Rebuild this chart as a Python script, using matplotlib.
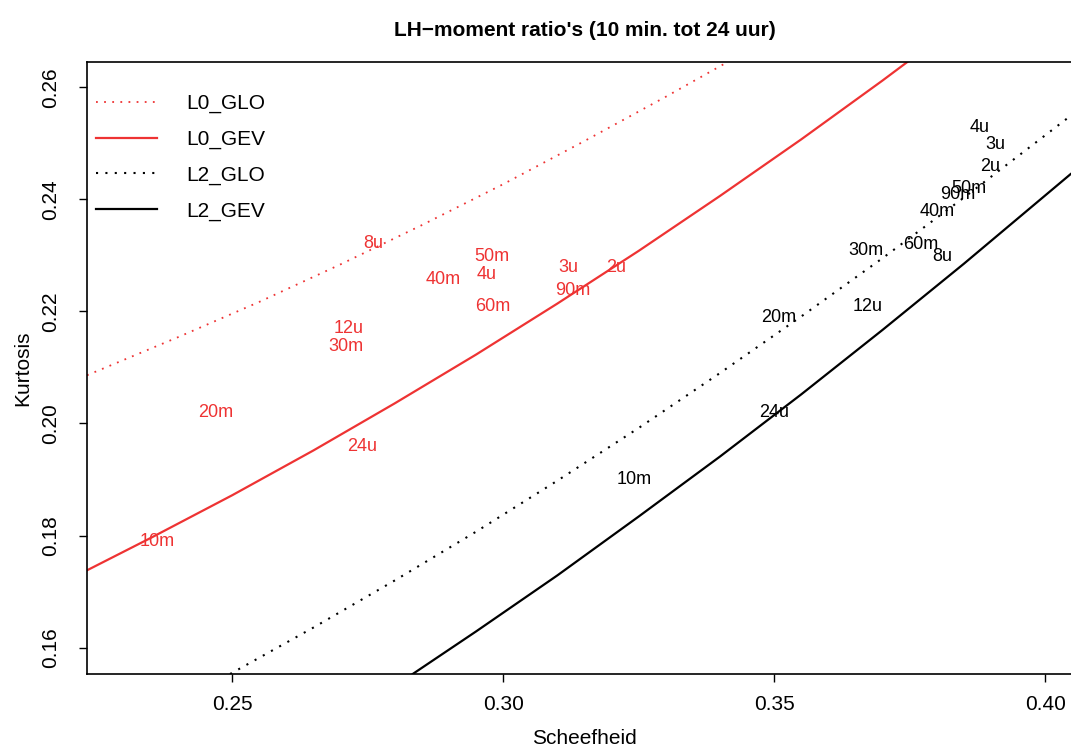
import numpy as np
import matplotlib
matplotlib.use("Agg")
import matplotlib.pyplot as plt

plt.rcParams['font.family'] = ['Liberation Sans', 'DejaVu Sans']

# Theoretical LH-moment ratio curves (skewness, kurtosis)
l0_glo_x = [0.2232, 0.2400, 0.2550, 0.2700, 0.2850, 0.3000, 0.3150, 0.3300, 0.3414]
l0_glo_y = [0.2086, 0.2154, 0.2217, 0.2284, 0.2354, 0.2427, 0.2504, 0.2583, 0.2645]

l0_gev_x = [0.2232, 0.2350, 0.2500, 0.2650, 0.2800, 0.2950, 0.3100, 0.3250,
            0.3400, 0.3550, 0.3700, 0.3765]
l0_gev_y = [0.1738, 0.1796, 0.1872, 0.1952, 0.2036, 0.2123, 0.2214, 0.2308,
            0.2406, 0.2507, 0.2612, 0.2659]

l2_glo_x = [0.2496, 0.2650, 0.2800, 0.2950, 0.3100, 0.3250, 0.3400, 0.3550,
            0.3700, 0.3850, 0.4047]
l2_glo_y = [0.1553, 0.1636, 0.1720, 0.1807, 0.1898, 0.1992, 0.2090, 0.2191,
            0.2295, 0.2403, 0.2549]

l2_gev_x = [0.2833, 0.2950, 0.3100, 0.3250, 0.3400, 0.3550, 0.3700, 0.3850, 0.4047]
l2_gev_y = [0.1553, 0.1629, 0.1729, 0.1834, 0.1941, 0.2052, 0.2167, 0.2285, 0.2445]

# Sample ratios per duration
durations = ['10m', '20m', '30m', '40m', '50m', '60m', '90m',
             '2u', '3u', '4u', '8u', '12u', '24u']
l0_skew = [0.2361, 0.2470, 0.2710, 0.2889, 0.2980, 0.2980, 0.3129,
           0.3209, 0.3120, 0.2969, 0.2760, 0.2714, 0.2739]
l0_kurt = [0.1789, 0.2019, 0.2138, 0.2257, 0.2298, 0.2208, 0.2238,
           0.2278, 0.2278, 0.2266, 0.2321, 0.2169, 0.1959]
l2_skew = [0.3242, 0.3509, 0.3669, 0.3800, 0.3860, 0.3771, 0.3838,
           0.3899, 0.3909, 0.3880, 0.3811, 0.3672, 0.3500]
l2_kurt = [0.1900, 0.2190, 0.2309, 0.2379, 0.2420, 0.2320, 0.2409,
           0.2459, 0.2497, 0.2529, 0.2298, 0.2209, 0.2020]

red = '#ee3333'
fs = 15

fig = plt.figure(figsize=(10.71, 7.49), dpi=100)
ax = fig.add_axes([87 / 1071, 1 - 674 / 749, 995 / 1071, 612 / 749])

ax.plot(l0_glo_x, l0_glo_y, color=red, lw=1.3, linestyle=(0, (1, 3.5)), label='L0_GLO')
ax.plot(l0_gev_x, l0_gev_y, color=red, lw=1.6, label='L0_GEV')
ax.plot(l2_glo_x, l2_glo_y, color='black', lw=1.5, linestyle=(0, (1, 3.5)), label='L2_GLO')
ax.plot(l2_gev_x, l2_gev_y, color='black', lw=1.6, label='L2_GEV')

# Duration labels at the sample points
for lab, x, y in zip(durations, l0_skew, l0_kurt):
    ax.text(x, y, lab, color=red, fontsize=13, ha='center', va='center')
for lab, x, y in zip(durations, l2_skew, l2_kurt):
    ax.text(x, y, lab, color='black', fontsize=13, ha='center', va='center')

ax.set_xlim(0.2232, 0.4068)
ax.set_ylim(0.1553, 0.2645)
ax.set_xticks([0.25, 0.30, 0.35, 0.40])
ax.set_xticklabels(['0.25', '0.30', '0.35', '0.40'])
ax.set_yticks([0.16, 0.18, 0.20, 0.22, 0.24, 0.26])
ax.set_yticklabels(['0.16', '0.18', '0.20', '0.22', '0.24', '0.26'], rotation=90, va='center')
ax.tick_params(axis='both', direction='out', length=6, width=1, labelsize=fs)
ax.tick_params(axis='x', pad=9)
ax.tick_params(axis='y', pad=13)
for s in ax.spines.values():
    s.set_linewidth(1.2)
ax.spines['right'].set_visible(False)

ax.set_xlabel('Scheefheid', fontsize=fs, labelpad=11)
ax.set_ylabel('Kurtosis', fontsize=fs, labelpad=7)
ax.set_title("LH\u2212moment ratio's (10 min. tot 24 uur)", fontsize=fs, fontweight='bold', pad=19)

ax.legend(loc='upper left', bbox_to_anchor=(0.003, 0.958), frameon=False, fontsize=fs,
          handlelength=2.9, handletextpad=1.4, labelspacing=0.8, borderaxespad=0, borderpad=0.3)

fig.savefig('out.png', dpi=100)
